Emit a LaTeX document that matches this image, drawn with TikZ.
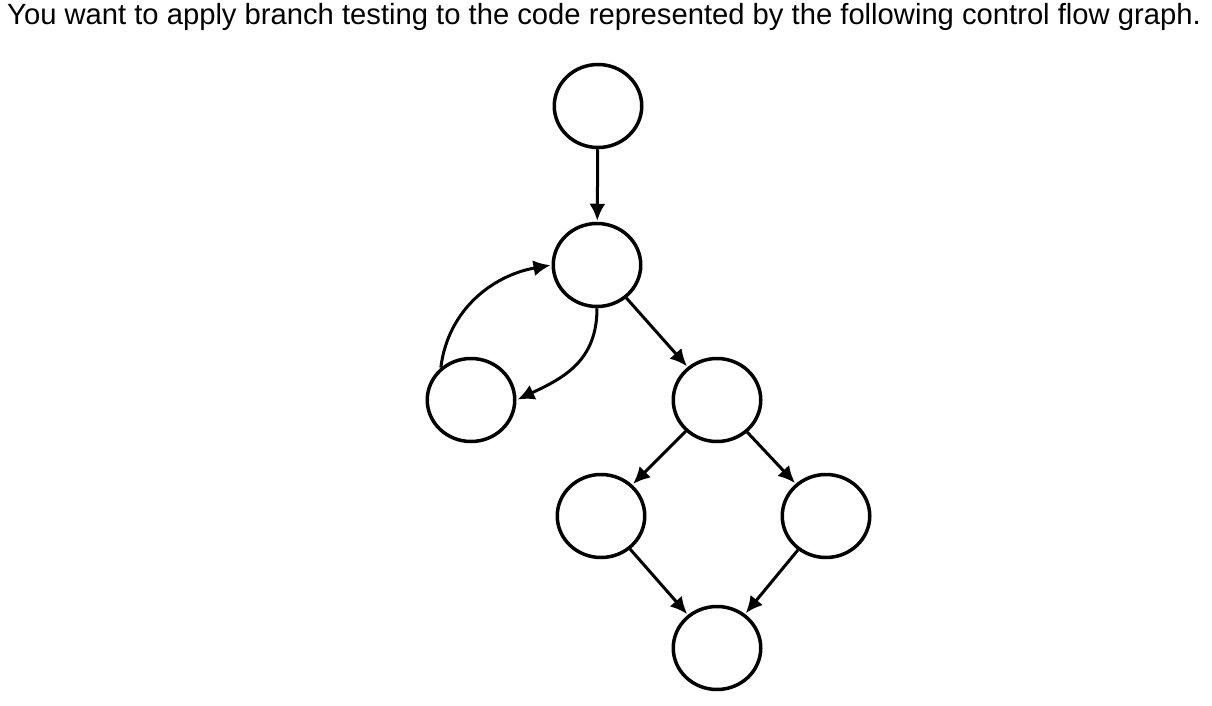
\documentclass[tikz,border=0pt]{standalone}
\usepackage{fontspec}
\setmainfont{Liberation Sans}
\usetikzlibrary{shapes.geometric,arrows.meta}
\begin{document}
\begin{tikzpicture}[x=1pt,y=-1pt,
  blk/.style={draw=black,line width=3.5pt,ellipse,minimum width=87.5pt,minimum height=83pt,inner sep=0pt},
  edge/.style={draw=black,line width=3pt,-{Latex[length=17pt,width=16pt]},shorten >=1pt}]
\path[use as bounding box,fill=white] (0,0) rectangle (1212,706);
\node[anchor=base west,inner sep=0pt,font=\fontsize{29.2pt}{34pt}\selectfont] (title) at (7,25)
  {You want to apply branch testing to the code represented by the following control flow graph.};
\node[blk] (A) at (598,106) {};
\node[blk] (B) at (597,265) {};
\node[blk] (C) at (471,400) {};
\node[blk] (D) at (717,400) {};
\node[blk] (E) at (601,516) {};
\node[blk] (F) at (826,516) {};
\node[blk] (G) at (717,648) {};
\draw[edge] (A) -- (B);
\draw[edge] (C.133) to[out=83,in=190] (B.west);
\draw[edge] (B.south) to[out=-90,in=25,looseness=1.1] (C.east);
\draw[edge] (B) -- (D);
\draw[edge] (D) -- (E);
\draw[edge] (D) -- (F);
\draw[edge] (E) -- (G);
\draw[edge] (F) -- (G);
\end{tikzpicture}
\end{document}
